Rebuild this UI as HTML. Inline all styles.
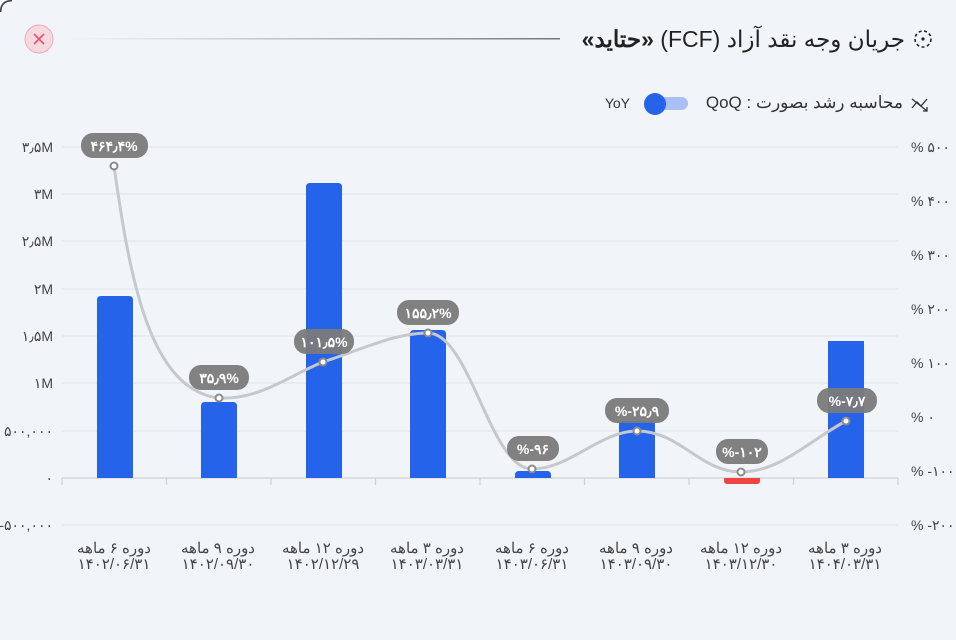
<!DOCTYPE html>
<html><head><meta charset="utf-8"><style>
body{margin:0;background:#fff;}
.card{position:absolute;left:0;top:0;width:956px;height:640px;background:#f1f5fa;border-radius:10px 0 0 0;overflow:hidden;}
svg{position:absolute;left:0;top:0;font-family:"Liberation Sans","Noto Sans CJK SC",sans-serif;}
.t{position:absolute;direction:rtl;white-space:nowrap;font-family:"Liberation Sans","Noto Sans CJK SC",sans-serif;color:#222;}
</style></head><body><div class="card">
<svg width="956" height="640" viewBox="0 0 956 640">
<defs><linearGradient id="lg" x1="0" x2="1"><stop offset="0" stop-color="#888" stop-opacity="0"/><stop offset="1" stop-color="#777"/></linearGradient></defs>
<path d="M0 12 Q0 0 12 0" stroke="#444" stroke-width="3" fill="none"/>
<circle cx="39" cy="39" r="14" fill="#f6d9df" stroke="#f3a9b7" stroke-width="1"/>
<path d="M34 34 L44 44 M44 34 L34 44" stroke="#f0506e" stroke-width="1.6"/>
<rect x="68" y="38" width="492" height="1.5" fill="url(#lg)"/>
<circle cx="923" cy="39" r="8" fill="none" stroke="#222" stroke-width="1.6" stroke-dasharray="3 2.5"/>
<circle cx="923" cy="39" r="1.6" fill="#222"/>
<path d="M912 108 L917 102 L921 106 L927 99 M912 99 L927 111 M923 111 L927 111 L927 107" stroke="#333" stroke-width="1.3" fill="none"/>
<rect x="646" y="97" width="42" height="13" rx="6.5" fill="#a8c0f3"/>
<circle cx="655" cy="104" r="11" fill="#2563eb"/>
<text x="630" y="108" text-anchor="end" font-size="14" fill="#333">YoY</text>
<g stroke="#dfe3e8" stroke-width="1">
<line x1="62" x2="898" y1="147" y2="147"/><line x1="62" x2="898" y1="194" y2="194"/><line x1="62" x2="898" y1="241" y2="241"/><line x1="62" x2="898" y1="289" y2="289"/><line x1="62" x2="898" y1="336" y2="336"/><line x1="62" x2="898" y1="383" y2="383"/><line x1="62" x2="898" y1="431" y2="431"/><line x1="62" x2="898" y1="525" y2="525"/>
</g>
<g stroke="#cfd4da" stroke-width="1.3"><line x1="62" x2="898" y1="478" y2="478"/>
<line x1="62" x2="62" y1="478" y2="485"/><line x1="166.5" x2="166.5" y1="478" y2="485"/><line x1="271" x2="271" y1="478" y2="485"/><line x1="375.5" x2="375.5" y1="478" y2="485"/><line x1="480" x2="480" y1="478" y2="485"/><line x1="584.5" x2="584.5" y1="478" y2="485"/><line x1="689" x2="689" y1="478" y2="485"/><line x1="793.5" x2="793.5" y1="478" y2="485"/><line x1="898" x2="898" y1="478" y2="485"/></g>
<g font-size="14" fill="#444" text-anchor="end">
<text x="53" y="152">۳٫۵M</text><text x="53" y="199">۳M</text><text x="53" y="246">۲٫۵M</text><text x="53" y="294">۲M</text><text x="53" y="341">۱٫۵M</text><text x="53" y="388">۱M</text><text x="53" y="436">۵۰۰,۰۰۰</text><text x="53" y="483">۰</text><text x="53" y="530">-۵۰۰,۰۰۰</text>
</g>
<g font-size="14" fill="#444" text-anchor="start">
<text x="911" y="152">% ۵۰۰</text><text x="911" y="206">% ۴۰۰</text><text x="911" y="260">% ۳۰۰</text><text x="911" y="314">% ۲۰۰</text><text x="911" y="368">% ۱۰۰</text><text x="911" y="422">% ۰</text><text x="911" y="476">% -۱۰۰</text><text x="911" y="530">% -۲۰۰</text>
</g>
<g fill="#2563eb">
<path d="M97 478 V300 Q97 296 101 296 H129 Q133 296 133 300 V478Z"/>
<path d="M201 478 V406 Q201 402 205 402 H233 Q237 402 237 406 V478Z"/>
<path d="M306 478 V187 Q306 183 310 183 H338 Q342 183 342 187 V478Z"/>
<path d="M410 478 V334 Q410 330 414 330 H442 Q446 330 446 334 V478Z"/>
<path d="M515 478 V475 Q515 471 519 471 H547 Q551 471 551 475 V478Z"/>
<path d="M619 478 V425 Q619 421 623 421 H651 Q655 421 655 425 V478Z"/>
<path d="M828 478 V341 H864 V478Z"/>
</g>
<path d="M724 478 H760 V481 Q760 484 756 484 H728 Q724 484 724 481Z" fill="#ef4444"/>
<path d="M114 166 C130 280 150 390 219 398 C260 400 290 375 323 362 C360 350 395 333 428 333 C470 333 490 469 532 469 C570 469 600 431 637 431 C680 431 700 472 741 472 C780 472 810 440 846 421" fill="none" stroke="#c6c8cb" stroke-width="3"/>
<g fill="#fff" stroke="#8a8a8a" stroke-width="2">
<circle cx="114" cy="166" r="3.5"/><circle cx="219" cy="398" r="3.5"/><circle cx="323" cy="362" r="3.5"/><circle cx="428" cy="333" r="3.5"/><circle cx="532" cy="469" r="3.5"/><circle cx="637" cy="431" r="3.5"/><circle cx="741" cy="472" r="3.5"/><circle cx="846" cy="421" r="3.5"/>
</g>
<g fill="#7a7a7a" fill-opacity="0.95">
<rect x="81" y="133" width="67" height="25" rx="12"/>
<rect x="189" y="365" width="60" height="25" rx="12"/>
<rect x="294" y="329" width="60" height="25" rx="12"/>
<rect x="397" y="300" width="62" height="25" rx="12"/>
<rect x="507" y="436" width="52" height="25" rx="12"/>
<rect x="605" y="398" width="64" height="25" rx="12"/>
<rect x="716" y="439" width="52" height="25" rx="12"/>
<rect x="817" y="388" width="60" height="25" rx="12"/>
</g>
<g font-size="14" font-weight="bold" fill="#fff" text-anchor="middle">
<text x="114" y="151">۴۶۴٫۴%</text><text x="219" y="383">۳۵٫۹%</text><text x="324" y="347">۱۰۱٫۵%</text><text x="428" y="318">۱۵۵٫۲%</text><text x="533" y="454">%-۹۶</text><text x="637" y="416">%-۲۵٫۹</text><text x="742" y="457">%-۱۰۲</text><text x="847" y="406">%-۷٫۷</text>
</g>
<g font-size="15" fill="#444" text-anchor="middle">
<text x="114" y="553">دوره ۶ ماهه</text><text x="114" y="569">۱۴۰۲/۰۶/۳۱</text>
<text x="218" y="553">دوره ۹ ماهه</text><text x="218" y="569">۱۴۰۲/۰۹/۳۰</text>
<text x="323" y="553">دوره ۱۲ ماهه</text><text x="323" y="569">۱۴۰۲/۱۲/۲۹</text>
<text x="427" y="553">دوره ۳ ماهه</text><text x="427" y="569">۱۴۰۳/۰۳/۳۱</text>
<text x="532" y="553">دوره ۶ ماهه</text><text x="532" y="569">۱۴۰۳/۰۶/۳۱</text>
<text x="636" y="553">دوره ۹ ماهه</text><text x="636" y="569">۱۴۰۳/۰۹/۳۰</text>
<text x="741" y="553">دوره ۱۲ ماهه</text><text x="741" y="569">۱۴۰۳/۱۲/۳۰</text>
<text x="845" y="553">دوره ۳ ماهه</text><text x="845" y="569">۱۴۰۴/۰۳/۳۱</text>
</g>
</svg>
<div class="t" style="right:51px;top:25px;font-size:23px;line-height:28px;">جریان وجه نقد آزاد (FCF) <b>«حتاید»</b></div>
<div class="t" style="right:53px;top:92px;font-size:17px;line-height:22px;color:#333;">محاسبه رشد بصورت : QoQ</div>
</div></body></html>
